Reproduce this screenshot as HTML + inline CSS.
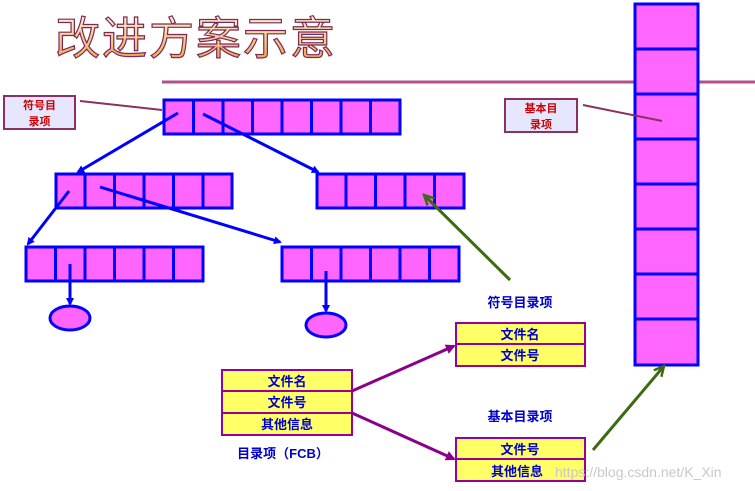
<!DOCTYPE html>
<html><head><meta charset="utf-8"><style>
html,body{margin:0;padding:0;background:#fff;width:755px;height:491px;overflow:hidden}
svg text{font-family:"Liberation Sans","Noto Sans CJK SC",sans-serif;font-weight:bold}
</style></head><body>
<svg width="755" height="491" viewBox="0 0 755 491" xmlns="http://www.w3.org/2000/svg">
<defs>
<linearGradient id="tg" x1="0" y1="0" x2="0" y2="1"><stop offset="0" stop-color="#fff6dc"/><stop offset="1" stop-color="#f0a040"/></linearGradient>
<marker id="ab" markerWidth="8" markerHeight="8" refX="6" refY="4" orient="auto" markerUnits="userSpaceOnUse"><path d="M0,0 L8,4 L0,8 z" fill="#0000ff"/></marker>
<marker id="ap" markerWidth="10" markerHeight="10" refX="8" refY="5" orient="auto" markerUnits="userSpaceOnUse"><path d="M0,0 L10,5 L0,10 z" fill="#8b008b"/></marker>
<marker id="ag" markerWidth="12" markerHeight="12" refX="10" refY="6" orient="auto" markerUnits="userSpaceOnUse"><path d="M0,1 L10,6 L0,11" fill="none" stroke="#3d6b10" stroke-width="2.5"/></marker>
</defs>
<text x="55" y="54" font-size="45" fill="url(#tg)" stroke="#7a2a5a" stroke-width="1.2" style="font-weight:normal" letter-spacing="2">改进方案示意</text>
<line x1="162" y1="82" x2="755" y2="82" stroke="#b0508a" stroke-width="3"/>
<g fill="#ff66ff" stroke="#0000ff" stroke-width="3">
<rect x="164" y="100" width="236" height="34"/>
<rect x="56" y="174" width="176" height="34"/>
<rect x="317" y="174" width="147" height="34"/>
<rect x="26" y="247" width="177" height="34"/>
<rect x="282" y="247" width="177" height="34"/>
<rect x="635" y="4" width="63" height="361"/>
<ellipse cx="70" cy="318" rx="20" ry="12"/>
<ellipse cx="326" cy="325" rx="20" ry="12"/>
</g>
<g stroke="#0000ff" stroke-width="3">
<line x1="193.5" y1="100" x2="193.5" y2="134"/><line x1="223" y1="100" x2="223" y2="134"/><line x1="252.5" y1="100" x2="252.5" y2="134"/><line x1="282" y1="100" x2="282" y2="134"/><line x1="311.5" y1="100" x2="311.5" y2="134"/><line x1="341" y1="100" x2="341" y2="134"/><line x1="370.5" y1="100" x2="370.5" y2="134"/>
<line x1="85" y1="174" x2="85" y2="208"/><line x1="114.5" y1="174" x2="114.5" y2="208"/><line x1="144" y1="174" x2="144" y2="208"/><line x1="173.5" y1="174" x2="173.5" y2="208"/><line x1="203" y1="174" x2="203" y2="208"/>
<line x1="346" y1="174" x2="346" y2="208"/><line x1="375.5" y1="174" x2="375.5" y2="208"/><line x1="405" y1="174" x2="405" y2="208"/><line x1="434.5" y1="174" x2="434.5" y2="208"/>
<line x1="55.5" y1="247" x2="55.5" y2="281"/><line x1="85" y1="247" x2="85" y2="281"/><line x1="114.5" y1="247" x2="114.5" y2="281"/><line x1="144" y1="247" x2="144" y2="281"/><line x1="173.5" y1="247" x2="173.5" y2="281"/>
<line x1="311.5" y1="247" x2="311.5" y2="281"/><line x1="341" y1="247" x2="341" y2="281"/><line x1="370.5" y1="247" x2="370.5" y2="281"/><line x1="400" y1="247" x2="400" y2="281"/><line x1="429.5" y1="247" x2="429.5" y2="281"/>
<line x1="635" y1="49" x2="698" y2="49"/><line x1="635" y1="94" x2="698" y2="94"/><line x1="635" y1="139" x2="698" y2="139"/><line x1="635" y1="184" x2="698" y2="184"/><line x1="635" y1="229" x2="698" y2="229"/><line x1="635" y1="274" x2="698" y2="274"/><line x1="635" y1="319" x2="698" y2="319"/>
</g>
<g stroke="#0000ff" stroke-width="3" marker-end="url(#ab)">
<line x1="178" y1="113" x2="78" y2="172"/>
<line x1="203" y1="114" x2="318" y2="172"/>
<line x1="69" y1="191" x2="28" y2="244"/>
<line x1="100" y1="187" x2="280" y2="242"/>
<line x1="70" y1="264" x2="70" y2="304"/>
<line x1="326" y1="271" x2="326" y2="311"/>
</g>
<rect x="4" y="96" width="71" height="33" fill="#e6e6ff" stroke="#8b3060" stroke-width="2"/>
<text x="39.5" y="109" font-size="11" fill="#cc0000" text-anchor="middle">符号目</text>
<text x="39.5" y="125" font-size="11" fill="#cc0000" text-anchor="middle">录项</text>
<line x1="80" y1="101" x2="162" y2="110" stroke="#8b3060" stroke-width="2"/>
<rect x="505" y="99" width="72" height="33" fill="#e6e6ff" stroke="#8b3060" stroke-width="2"/>
<text x="541" y="112" font-size="11" fill="#cc0000" text-anchor="middle">基本目</text>
<text x="541" y="128" font-size="11" fill="#cc0000" text-anchor="middle">录项</text>
<line x1="583" y1="105" x2="662" y2="121" stroke="#8b3060" stroke-width="2"/>
<g stroke="#3d6b10" stroke-width="3" marker-end="url(#ag)">
<line x1="510" y1="280" x2="424" y2="195"/>
<line x1="593" y1="450" x2="664" y2="366"/>
</g>
<g fill="#ffff66" stroke="#990099" stroke-width="2">
<rect x="222" y="370" width="130" height="21"/><rect x="222" y="391" width="130" height="22"/><rect x="222" y="413" width="130" height="22"/>
<rect x="456" y="323" width="129" height="21"/><rect x="456" y="344" width="129" height="22"/>
<rect x="456" y="438" width="129" height="21"/><rect x="456" y="459" width="129" height="22"/>
</g>
<g font-size="13" fill="#0000cc" text-anchor="middle">
<text x="287" y="386">文件名</text><text x="287" y="407">文件号</text><text x="287" y="429">其他信息</text>
<text x="520" y="339">文件名</text><text x="520" y="360">文件号</text>
<text x="520" y="454">文件号</text><text x="517" y="476">其他信息</text>
<text x="520" y="307">符号目录项</text><text x="520" y="421">基本目录项</text>
<text x="283" y="458">目录项（FCB）</text>
</g>
<g stroke="#8b008b" stroke-width="3" marker-end="url(#ap)">
<line x1="352" y1="391" x2="454" y2="346"/>
<line x1="352" y1="413" x2="454" y2="459"/>
</g>
<text x="555" y="477" font-size="14" fill="#c8c8c8" style="font-weight:normal">https://blog.csdn.net/K_Xin</text>
</svg>
</body></html>
